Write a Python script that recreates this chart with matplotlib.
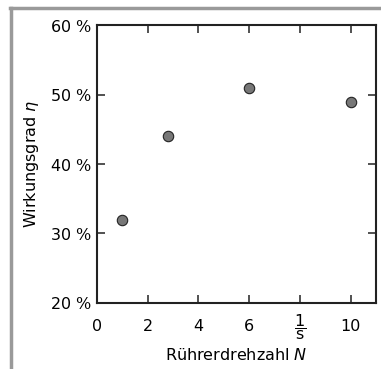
import matplotlib
matplotlib.use("Agg")
import matplotlib.pyplot as plt
from matplotlib.lines import Line2D

# data
drehzahl = [1, 2.8, 6, 10]
wirkungsgrad = [32, 44, 51, 49]
x_ticks = [0, 2, 4, 6, 8, 10]
x_labels = ["0", "2", "4", "6", r"$\dfrac{\mathsf{1}}{\mathsf{s}}$", "10"]
y_ticks = [20, 30, 40, 50, 60]
y_labels = [rf"{v} $\%$" for v in y_ticks]

plt.rcParams["font.family"] = "DejaVu Sans"
plt.rcParams["mathtext.fontset"] = "custom"
plt.rcParams["mathtext.rm"] = "DejaVu Serif"
plt.rcParams["mathtext.it"] = "DejaVu Sans:italic"
plt.rcParams["mathtext.sf"] = "DejaVu Sans"

fig = plt.figure(figsize=(3.81, 3.69), dpi=100)
ax = fig.add_axes([0.2546, 0.179, 0.987 - 0.2546, 0.932 - 0.179])

ax.plot(drehzahl, wirkungsgrad, "o", color="#777777", markeredgecolor="#222222",
        markeredgewidth=0.8, markersize=7.5)

ax.set_xlim(0, 11)
ax.set_ylim(20, 60)
ax.set_xticks(x_ticks)
ax.set_xticklabels(x_labels, fontsize=11.5, va="center")
ax.set_yticks(y_ticks)
ax.set_yticklabels(y_labels, fontsize=11.5)
ax.tick_params(direction="in", top=True, right=True, length=6, width=1.2, color="#333333")
ax.tick_params(axis="x", pad=17)
for s in ax.spines.values():
    s.set_linewidth(1.5)
    s.set_color("#222222")

ax.set_xlabel(r"Rührerdrehzahl $N$", fontsize=11.5, labelpad=4)
ax.set_ylabel(r"Wirkungsgrad $\eta$", fontsize=11.5, labelpad=7)

# grey frame on the top and left
fig.add_artist(Line2D([10 / 381, 1], [1 - 8 / 369, 1 - 8 / 369], color="#9a9a9a", lw=2.5,
                      transform=fig.transFigure))
fig.add_artist(Line2D([11 / 381, 11 / 381], [0, 1 - 8 / 369], color="#9a9a9a", lw=2.5,
                      transform=fig.transFigure))

fig.savefig("out.png", dpi=100)
